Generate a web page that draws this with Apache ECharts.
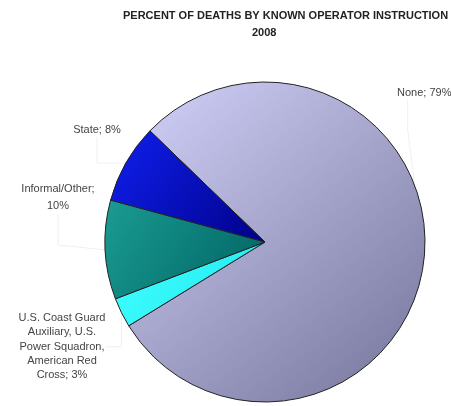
<!DOCTYPE html>
<html>
<head>
<meta charset="utf-8">
<script src="https://cdn.jsdelivr.net/npm/echarts@6/dist/echarts.min.js"></script>
<style>
  html, body { margin: 0; padding: 0; background: #fff; }
  #main { width: 451px; height: 406px; }
</style>
</head>
<body>
<div id="main"></div>
<script>
var categories = ['None', 'U.S. Coast Guard\nAuxiliary, U.S.\nPower Squadron,\nAmerican Red\nCross', 'Informal/Other', 'State'];
var shares = [79, 3, 10, 8];
var labelTexts = ['None; 79%', 'U.S. Coast Guard\nAuxiliary, U.S.\nPower Squadron,\nAmerican Red\nCross; 3%', 'Informal/Other;\n10%', 'State; 8%'];

function grad(a, b) {
  return new echarts.graphic.LinearGradient(0, 0, 1, 1, [
    { offset: 0, color: a },
    { offset: 1, color: b }
  ]);
}
var fills = [
  grad('#d2d2fa', '#74749a'),
  grad('#40ffff', '#20e8f0'),
  grad('#1a9c92', '#006262'),
  grad('#1020f0', '#000088')
];
// label spots (x, top) in px
var labelSpots = [
  { x: 397, y: 86, align: 'left', lh: 14 },
  { x: 62, y: 311, align: 'center', lh: 14.3 },
  { x: 58, y: 180, align: 'center', lh: 17.5 },
  { x: 97, y: 123, align: 'center', lh: 14 }
];

var dom = document.getElementById('main');
var myChart = echarts.init(dom, null, { renderer: 'canvas' });

var titleStyle = { fontFamily: 'Liberation Sans', fontSize: 11, fontWeight: 'bold', color: '#222' };

var option = {
  animation: false,
  title: [
    { text: 'PERCENT OF DEATHS BY KNOWN OPERATOR INSTRUCTION', left: 118, top: 5, textStyle: titleStyle },
    { text: '2008', left: 247, top: 22, textStyle: titleStyle }
  ],
  series: [
    {
      type: 'pie',
      center: [265, 242],
      radius: 160,
      startAngle: 136,
      clockwise: true,
      data: shares.map(function (v, i) {
        return {
          value: v,
          name: categories[i],
          itemStyle: { color: fills[i] },
          label: { formatter: labelTexts[i], lineHeight: labelSpots[i].lh }
        };
      }),
      itemStyle: { borderColor: '#222', borderWidth: 1 },
      label: {
        show: true,
        position: 'outside',
        overflow: 'none',
        fontFamily: 'Liberation Sans',
        fontSize: 11,
        color: '#444'
      },
      labelLine: { show: true, lineStyle: { color: '#f0f0f0', width: 1 } },
      labelLayout: function (p) {
        var s = labelSpots[p.dataIndex];
        return { x: s.x, y: s.y, align: s.align, verticalAlign: 'top' };
      },
      emphasis: { disabled: true }
    }
  ]
};

myChart.setOption(option);
window.addEventListener('resize', myChart.resize);
</script>
</body>
</html>
